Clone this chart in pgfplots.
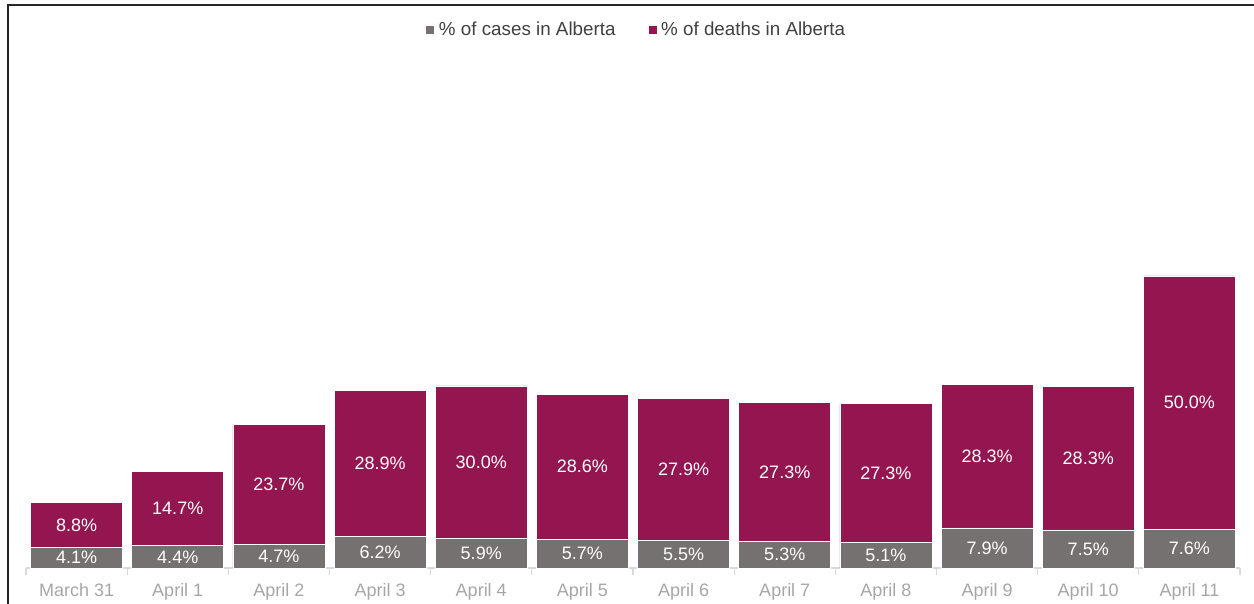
\documentclass[border=0pt]{standalone}
\usepackage{pgfplots}
\pgfplotsset{compat=1.18}
\usepackage{fontspec}
\setmainfont{Liberation Sans}
\definecolor{cases}{HTML}{767171}
\definecolor{deaths}{HTML}{941651}
\definecolor{ticklab}{HTML}{A6A6A6}
\definecolor{axline}{HTML}{D9D9D9}
\definecolor{legtext}{HTML}{404040}
\begin{document}
\fontsize{9pt}{11pt}\selectfont
\begin{tikzpicture}
\useasboundingbox (0,0) rectangle (627pt,302pt);
\draw[line width=1pt, black!85] (4pt,-5pt) -- (4pt,299.5pt) -- (640pt,299.5pt);
\begin{axis}[
  at={(13pt,18pt)}, anchor=south west,
  scale only axis, width=607pt, height=253.5pt,
  ybar stacked, bar width=0.91,
  xmin=-0.5, xmax=11.5, ymin=0, ymax=100,
  clip=false,
  axis y line=none, axis x line*=bottom,
  x axis line style={draw=axline, line width=0.6pt},
  xtick={0,...,11},
  xticklabels={March 31, April 1, April 2, April 3, April 4, April 5, April 6, April 7, April 8, April 9, April 10, April 11},
  major tick length=0pt,
  minor xtick={-0.5,0.5,...,11.5},
  minor tick length=3.5pt,
  tick align=outside,
  minor tick style={draw=axline, line width=0.6pt},
  xticklabel style={text=ticklab, font=\fontsize{9pt}{11pt}\selectfont, yshift=-4.5pt},
  /pgf/number format/assume math mode=true,
  point meta=rawy,
  visualization depends on=rawy \as \rawy,
  nodes near coords={\pgfmathprintnumber[fixed,fixed zerofill,precision=1]{\pgfplotspointmeta}\%},
  every node near coord/.append style={text=white, anchor=center, font=\fontsize{9pt}{11pt}\selectfont},
  legend style={at={(0.5035,1.061)}, anchor=center, draw=none, fill=none, legend columns=2, font=\fontsize{9.4pt}{11pt}\selectfont, text=legtext, /tikz/every even column/.append style={column sep=14pt}},
  legend image code/.code={\fill[#1] (-1.5pt,-2.25pt) rectangle (3pt,2.25pt);},
]
\addplot[fill=cases, draw=white, line width=0.3pt] coordinates {
(0,4.1) (1,4.4) (2,4.7) (3,6.2) (4,5.9) (5,5.7) (6,5.5) (7,5.3) (8,5.1) (9,7.9) (10,7.5) (11,7.6)};
\addlegendentry{\% of cases in Alberta}
\addplot[fill=deaths, draw=white, line width=0.3pt] coordinates {
(0,8.8) (1,14.7) (2,23.7) (3,28.9) (4,30.0) (5,28.6) (6,27.9) (7,27.3) (8,27.3) (9,28.3) (10,28.3) (11,50.0)};
\addlegendentry{\% of deaths in Alberta}
\end{axis}
\end{tikzpicture}
\end{document}
